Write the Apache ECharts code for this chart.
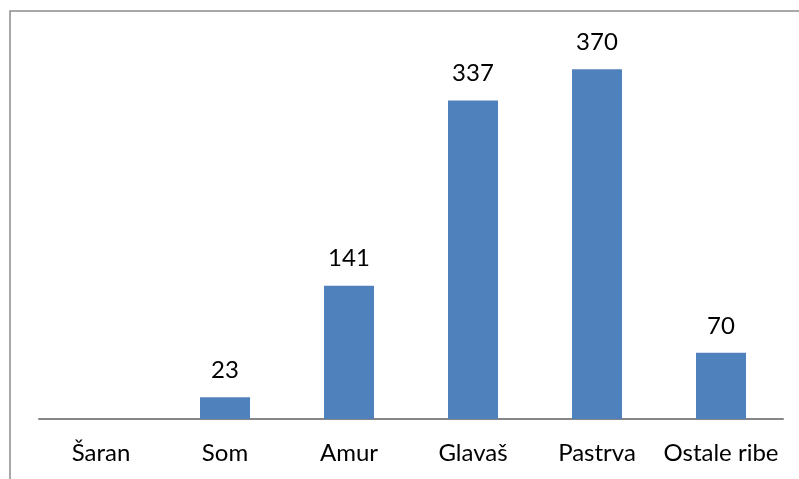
<!DOCTYPE html>
<html>
<head>
<meta charset="utf-8">
<script src="https://cdn.jsdelivr.net/npm/echarts@6/dist/echarts.min.js"></script>
<style>
  html, body { margin: 0; padding: 0; background: #fff; }
  #chart { width: 799px; height: 479px; }
</style>
</head>
<body>
<div id="chart"></div>
<script>
const categories = ["Šaran", "Som", "Amur", "Glavaš", "Pastrva", "Ostale ribe"];
const values = [0, 23, 141, 337, 370, 70];

const BAR = "#4f81bd";
const LINE = "#868686";
const FONT = "Lato, 'Open Sans', sans-serif";

const chart = echarts.init(document.getElementById("chart"), null, { renderer: "canvas" });

chart.setOption({
  animation: false,
  grid: { left: 39, right: 16, top: 41, bottom: 60 },
  graphic: [
    {
      type: "rect",
      shape: { x: 10, y: 11, width: 820, height: 500 },
      style: { fill: null, stroke: "#8c8c8c", lineWidth: 1.5 },
      silent: true,
    },
  ],
  xAxis: {
    type: "category",
    data: categories,
    axisLine: { lineStyle: { color: LINE, width: 2 } },
    axisTick: { show: false },
    axisLabel: { color: "#000", fontSize: 24, fontFamily: FONT, margin: 22, interval: 0 },
  },
  yAxis: {
    type: "value",
    min: 0,
    max: 400,
    show: false,
  },
  series: [
    {
      type: "bar",
      data: values,
      barWidth: 50,
      itemStyle: { color: BAR },
      label: {
        show: true,
        position: "top",
        distance: 15,
        color: "#000",
        fontSize: 24,
        fontFamily: FONT,
        formatter: (p) => (p.value ? String(p.value) : ""),
      },
    },
  ],
});
</script>
</body>
</html>
